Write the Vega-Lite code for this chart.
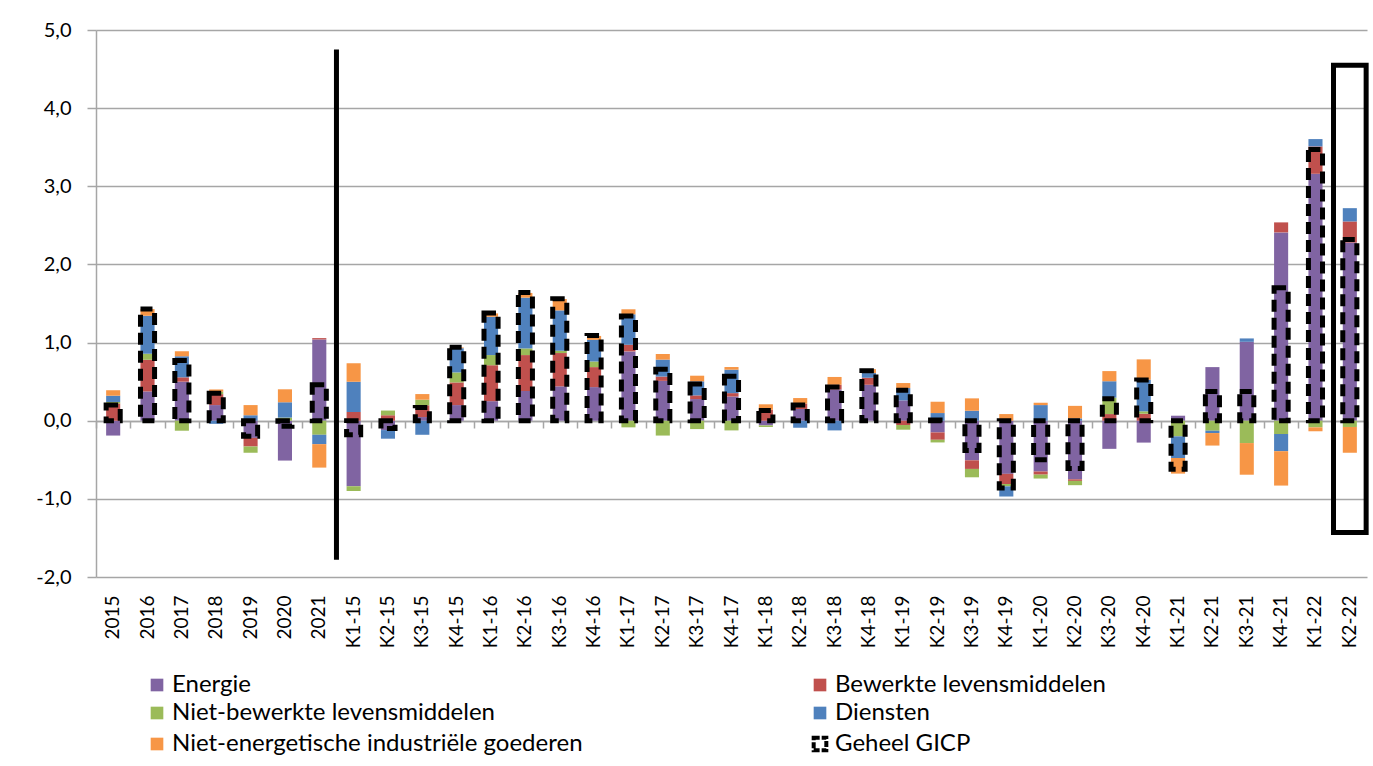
{
  "$schema": "https://vega.github.io/schema/vega-lite/v6.json",
  "width": 1271,
  "height": 547,
  "autosize": {"type": "none"},
  "padding": {"left": 96, "top": 30, "right": 6, "bottom": 189},
  "background": "white",
  "config": {"view": {"stroke": null}, "font": "Lato"},
  "datasets": {
    "cijfers": [
      {"p": "2015", "Energie": -0.19, "Bewerkte levensmiddelen": 0.22, "Niet-bewerkte levensmiddelen": 0.02, "Diensten": 0.08, "Niet-energetische industriële goederen": 0.07, "Geheel GICP": 0.2},
      {"p": "2016", "Energie": 0.375, "Bewerkte levensmiddelen": 0.405, "Niet-bewerkte levensmiddelen": 0.077, "Diensten": 0.486, "Niet-energetische industriële goederen": 0.085, "Geheel GICP": 1.43},
      {"p": "2017", "Energie": 0.5, "Bewerkte levensmiddelen": 0.055, "Niet-bewerkte levensmiddelen": -0.128, "Diensten": 0.27, "Niet-energetische industriële goederen": 0.064, "Geheel GICP": 0.77},
      {"p": "2018", "Energie": 0.2, "Bewerkte levensmiddelen": 0.14, "Niet-bewerkte levensmiddelen": 0.03, "Diensten": -0.04, "Niet-energetische industriële goederen": 0.03, "Geheel GICP": 0.35},
      {"p": "2019", "Energie": -0.22, "Bewerkte levensmiddelen": -0.11, "Niet-bewerkte levensmiddelen": -0.08, "Diensten": 0.07, "Niet-energetische industriële goederen": 0.13, "Geheel GICP": -0.2},
      {"p": "2020", "Energie": -0.51, "Bewerkte levensmiddelen": 0.0, "Niet-bewerkte levensmiddelen": 0.04, "Diensten": 0.196, "Niet-energetische industriële goederen": 0.166, "Geheel GICP": -0.07},
      {"p": "2021", "Energie": 1.04, "Bewerkte levensmiddelen": 0.017, "Niet-bewerkte levensmiddelen": -0.18, "Diensten": -0.12, "Niet-energetische industriële goederen": -0.3, "Geheel GICP": 0.46},
      {"p": "K1-15", "Energie": -0.84, "Bewerkte levensmiddelen": 0.11, "Niet-bewerkte levensmiddelen": -0.06, "Diensten": 0.39, "Niet-energetische industriële goederen": 0.234, "Geheel GICP": -0.18},
      {"p": "K2-15", "Energie": -0.12, "Bewerkte levensmiddelen": 0.07, "Niet-bewerkte levensmiddelen": 0.06, "Diensten": -0.11, "Niet-energetische industriële goederen": 0.0, "Geheel GICP": -0.1},
      {"p": "K3-15", "Energie": 0.047, "Bewerkte levensmiddelen": 0.15, "Niet-bewerkte levensmiddelen": 0.072, "Diensten": -0.18, "Niet-energetische industriële goederen": 0.072, "Geheel GICP": 0.17},
      {"p": "K4-15", "Energie": 0.2, "Bewerkte levensmiddelen": 0.29, "Niet-bewerkte levensmiddelen": 0.128, "Diensten": 0.31, "Niet-energetische industriële goederen": 0.01, "Geheel GICP": 0.94},
      {"p": "K1-16", "Energie": 0.25, "Bewerkte levensmiddelen": 0.46, "Niet-bewerkte levensmiddelen": 0.13, "Diensten": 0.49, "Niet-energetische industriële goederen": 0.043, "Geheel GICP": 1.38},
      {"p": "K2-16", "Energie": 0.38, "Bewerkte levensmiddelen": 0.46, "Niet-bewerkte levensmiddelen": 0.085, "Diensten": 0.65, "Niet-energetische industriële goederen": 0.06, "Geheel GICP": 1.64},
      {"p": "K3-16", "Energie": 0.44, "Bewerkte levensmiddelen": 0.426, "Niet-bewerkte levensmiddelen": 0.03, "Diensten": 0.516, "Niet-energetische industriële goederen": 0.145, "Geheel GICP": 1.56},
      {"p": "K4-16", "Energie": 0.43, "Bewerkte levensmiddelen": 0.256, "Niet-bewerkte levensmiddelen": 0.072, "Diensten": 0.277, "Niet-energetische industriële goederen": 0.05, "Geheel GICP": 1.09},
      {"p": "K1-17", "Energie": 0.887, "Bewerkte levensmiddelen": 0.085, "Niet-bewerkte levensmiddelen": -0.085, "Diensten": 0.39, "Niet-energetische industriële goederen": 0.064, "Geheel GICP": 1.34},
      {"p": "K2-17", "Energie": 0.51, "Bewerkte levensmiddelen": 0.055, "Niet-bewerkte levensmiddelen": -0.19, "Diensten": 0.217, "Niet-energetische industriële goederen": 0.072, "Geheel GICP": 0.66},
      {"p": "K3-17", "Energie": 0.277, "Bewerkte levensmiddelen": 0.047, "Niet-bewerkte levensmiddelen": -0.107, "Diensten": 0.18, "Niet-energetische industriële goederen": 0.072, "Geheel GICP": 0.47},
      {"p": "K4-17", "Energie": 0.31, "Bewerkte levensmiddelen": 0.043, "Niet-bewerkte levensmiddelen": -0.124, "Diensten": 0.3, "Niet-energetische industriële goederen": 0.034, "Geheel GICP": 0.57},
      {"p": "K1-18", "Energie": -0.06, "Bewerkte levensmiddelen": 0.14, "Niet-bewerkte levensmiddelen": -0.02, "Diensten": 0.0, "Niet-energetische industriële goederen": 0.07, "Geheel GICP": 0.13},
      {"p": "K2-18", "Energie": 0.15, "Bewerkte levensmiddelen": 0.07, "Niet-bewerkte levensmiddelen": 0.0, "Diensten": -0.09, "Niet-energetische industriële goederen": 0.07, "Geheel GICP": 0.2},
      {"p": "K3-18", "Energie": 0.4, "Bewerkte levensmiddelen": 0.06, "Niet-bewerkte levensmiddelen": 0.0, "Diensten": -0.124, "Niet-energetische industriële goederen": 0.1, "Geheel GICP": 0.43},
      {"p": "K4-18", "Energie": 0.46, "Bewerkte levensmiddelen": 0.09, "Niet-bewerkte levensmiddelen": 0.0, "Diensten": 0.06, "Niet-energetische industriële goederen": 0.05, "Geheel GICP": 0.64},
      {"p": "K1-19", "Energie": 0.26, "Bewerkte levensmiddelen": -0.055, "Niet-bewerkte levensmiddelen": -0.06, "Diensten": 0.158, "Niet-energetische industriële goederen": 0.064, "Geheel GICP": 0.39},
      {"p": "K2-19", "Energie": -0.15, "Bewerkte levensmiddelen": -0.094, "Niet-bewerkte levensmiddelen": -0.034, "Diensten": 0.098, "Niet-energetische industriële goederen": 0.145, "Geheel GICP": 0.01},
      {"p": "K3-19", "Energie": -0.507, "Bewerkte levensmiddelen": -0.11, "Niet-bewerkte levensmiddelen": -0.107, "Diensten": 0.128, "Niet-energetische industriële goederen": 0.158, "Geheel GICP": -0.38},
      {"p": "K4-19", "Energie": -0.68, "Bewerkte levensmiddelen": -0.13, "Niet-bewerkte levensmiddelen": -0.03, "Diensten": -0.13, "Niet-energetische industriële goederen": 0.085, "Geheel GICP": -0.86},
      {"p": "K1-20", "Energie": -0.65, "Bewerkte levensmiddelen": -0.04, "Niet-bewerkte levensmiddelen": -0.05, "Diensten": 0.2, "Niet-energetische industriële goederen": 0.03, "Geheel GICP": -0.5},
      {"p": "K2-20", "Energie": -0.75, "Bewerkte levensmiddelen": -0.02, "Niet-bewerkte levensmiddelen": -0.055, "Diensten": 0.03, "Niet-energetische industriële goederen": 0.16, "Geheel GICP": -0.61},
      {"p": "K3-20", "Energie": -0.36, "Bewerkte levensmiddelen": 0.085, "Niet-bewerkte levensmiddelen": 0.21, "Diensten": 0.21, "Niet-energetische industriële goederen": 0.13, "Geheel GICP": 0.28},
      {"p": "K4-20", "Energie": -0.28, "Bewerkte levensmiddelen": 0.09, "Niet-bewerkte levensmiddelen": 0.03, "Diensten": 0.405, "Niet-energetische industriële goederen": 0.26, "Geheel GICP": 0.52},
      {"p": "K1-21", "Energie": 0.064, "Bewerkte levensmiddelen": 0.0, "Niet-bewerkte levensmiddelen": -0.2, "Diensten": -0.277, "Niet-energetische industriële goederen": -0.2, "Geheel GICP": -0.62},
      {"p": "K2-21", "Energie": 0.686, "Bewerkte levensmiddelen": 0.0, "Niet-bewerkte levensmiddelen": -0.128, "Diensten": -0.03, "Niet-energetische industriële goederen": -0.16, "Geheel GICP": 0.375},
      {"p": "K3-21", "Energie": 1.01, "Bewerkte levensmiddelen": 0.0, "Niet-bewerkte levensmiddelen": -0.286, "Diensten": 0.043, "Niet-energetische industriële goederen": -0.405, "Geheel GICP": 0.375},
      {"p": "K4-21", "Energie": 2.41, "Bewerkte levensmiddelen": 0.128, "Niet-bewerkte levensmiddelen": -0.17, "Diensten": -0.22, "Niet-energetische industriële goederen": -0.44, "Geheel GICP": 1.7},
      {"p": "K1-22", "Energie": 3.16, "Bewerkte levensmiddelen": 0.35, "Niet-bewerkte levensmiddelen": -0.085, "Diensten": 0.094, "Niet-energetische industriële goederen": -0.05, "Geheel GICP": 3.47},
      {"p": "K2-22", "Energie": 2.28, "Bewerkte levensmiddelen": 0.27, "Niet-bewerkte levensmiddelen": -0.08, "Diensten": 0.17, "Niet-energetische industriële goederen": -0.33, "Geheel GICP": 2.32}
    ],
    "volgorde": [
      {"s": "Energie", "k": 1},
      {"s": "Bewerkte levensmiddelen", "k": 2},
      {"s": "Niet-bewerkte levensmiddelen", "k": 3},
      {"s": "Diensten", "k": 4},
      {"s": "Niet-energetische industriële goederen", "k": 5}
    ],
    "lijn": [{"p": "2021", "boven": 4.75, "onder": -1.78}],
    "kader": [{"p": "K2-22", "boven": 4.55, "onder": -1.43}]
  },
  "layer": [
    {
      "data": {"name": "cijfers"},
      "transform": [
        {"fold": ["Energie", "Bewerkte levensmiddelen", "Niet-bewerkte levensmiddelen", "Diensten", "Niet-energetische industriële goederen"], "as": ["s", "v"]},
        {"lookup": "s", "from": {"data": {"name": "volgorde"}, "key": "s", "fields": ["k"]}}
      ],
      "mark": {"type": "bar", "width": {"band": 0.41}},
      "encoding": {
        "x": {
          "field": "p", "type": "nominal",
          "scale": {"domain": ["2015","2016","2017","2018","2019","2020","2021","K1-15","K2-15","K3-15","K4-15","K1-16","K2-16","K3-16","K4-16","K1-17","K2-17","K3-17","K4-17","K1-18","K2-18","K3-18","K4-18","K1-19","K2-19","K3-19","K4-19","K1-20","K2-20","K3-20","K4-20","K1-21","K2-21","K3-21","K4-21","K1-22","K2-22"], "paddingInner": 0, "paddingOuter": 0},
          "axis": {"orient": "bottom", "domain": false, "ticks": false, "grid": false, "title": null, "labelAngle": -90, "labelPadding": 18, "labelFontSize": 19, "labelFont": "Lato", "labelColor": "black"}
        },
        "y": {
          "field": "v", "type": "quantitative", "stack": "zero",
          "scale": {"domain": [-2, 5], "nice": false},
          "axis": {"values": [-2,-1,0,1,2,3,4,5], "labelExpr": "replace(replace(format(datum.value, '.1f'), '.', ','), '−', '-')", "labelFontSize": 20, "labelFont": "Lato", "labelColor": "black", "labelPadding": 16, "tickSize": 9, "tickColor": "#a6a6a6", "tickWidth": 1.5, "domainColor": "#a6a6a6", "domainWidth": 1.5, "grid": true, "gridColor": "#a6a6a6", "gridWidth": 1.5, "title": null}
        },
        "color": {
          "field": "s", "type": "nominal",
          "scale": {"domain": ["Energie", "Niet-bewerkte levensmiddelen", "Niet-energetische industriële goederen", "Bewerkte levensmiddelen", "Diensten", "Geheel GICP"], "range": ["#8064A2", "#9BBB59", "#F79646", "#C0504D", "#4F81BD", "#FFFFFF"]},
          "legend": {
            "title": null, "orient": "none", "legendX": 49, "legendY": 643, "columns": 2, "columnPadding": 222, "rowPadding": 4,
            "symbolType": "square", "symbolSize": 160, "labelFontSize": 24, "labelFont": "Lato", "labelColor": "black", "labelLimit": 1000, "labelOffset": 3,
            "encode": {"symbols": {"update": {
              "stroke": {"signal": "datum.label === 'Geheel GICP' ? 'black' : 'transparent'"},
              "strokeWidth": {"signal": "datum.label === 'Geheel GICP' ? 4 : 0"},
              "strokeDash": {"signal": "datum.label === 'Geheel GICP' ? [6, 2] : [1, 0]"}
            }}}
          }
        },
        "order": {"field": "k", "type": "quantitative"}
      }
    },
    {
      "data": {"name": "cijfers"},
      "mark": {"type": "bar", "width": {"band": 0.41}, "fill": "white", "fillOpacity": 0, "stroke": "black", "strokeWidth": 5, "strokeDash": [12, 6]},
      "encoding": {
        "x": {
          "field": "p", "type": "nominal",
          "scale": {"domain": ["2015","2016","2017","2018","2019","2020","2021","K1-15","K2-15","K3-15","K4-15","K1-16","K2-16","K3-16","K4-16","K1-17","K2-17","K3-17","K4-17","K1-18","K2-18","K3-18","K4-18","K1-19","K2-19","K3-19","K4-19","K1-20","K2-20","K3-20","K4-20","K1-21","K2-21","K3-21","K4-21","K1-22","K2-22"], "paddingInner": 0, "paddingOuter": 0},
          "axis": {"orient": "bottom", "offset": -156, "labels": false, "ticks": true, "tickBand": "extent", "tickSize": 7, "tickColor": "#a6a6a6", "tickWidth": 1.5, "domainColor": "#a6a6a6", "domainWidth": 1.5, "grid": false, "title": null}
        },
        "y": {"field": "Geheel GICP", "type": "quantitative", "axis": null}
      }
    },
    {
      "data": {"name": "lijn"},
      "mark": {"type": "rule", "color": "black", "strokeWidth": 5},
      "encoding": {
        "x": {"field": "p", "type": "nominal", "bandPosition": 1,
          "scale": {"domain": ["2015","2016","2017","2018","2019","2020","2021","K1-15","K2-15","K3-15","K4-15","K1-16","K2-16","K3-16","K4-16","K1-17","K2-17","K3-17","K4-17","K1-18","K2-18","K3-18","K4-18","K1-19","K2-19","K3-19","K4-19","K1-20","K2-20","K3-20","K4-20","K1-21","K2-21","K3-21","K4-21","K1-22","K2-22"], "paddingInner": 0, "paddingOuter": 0},
          "axis": null},
        "y": {"field": "boven", "type": "quantitative", "axis": null},
        "y2": {"field": "onder"}
      }
    },
    {
      "data": {"name": "kader"},
      "mark": {"type": "bar", "width": {"band": 0.95}, "fill": "white", "fillOpacity": 0, "stroke": "black", "strokeWidth": 5},
      "encoding": {
        "x": {"field": "p", "type": "nominal",
          "scale": {"domain": ["2015","2016","2017","2018","2019","2020","2021","K1-15","K2-15","K3-15","K4-15","K1-16","K2-16","K3-16","K4-16","K1-17","K2-17","K3-17","K4-17","K1-18","K2-18","K3-18","K4-18","K1-19","K2-19","K3-19","K4-19","K1-20","K2-20","K3-20","K4-20","K1-21","K2-21","K3-21","K4-21","K1-22","K2-22"], "paddingInner": 0, "paddingOuter": 0},
          "axis": null},
        "y": {"field": "boven", "type": "quantitative", "axis": null},
        "y2": {"field": "onder"}
      }
    }
  ],
  "resolve": {"axis": {"x": "independent", "y": "independent"}}
}
